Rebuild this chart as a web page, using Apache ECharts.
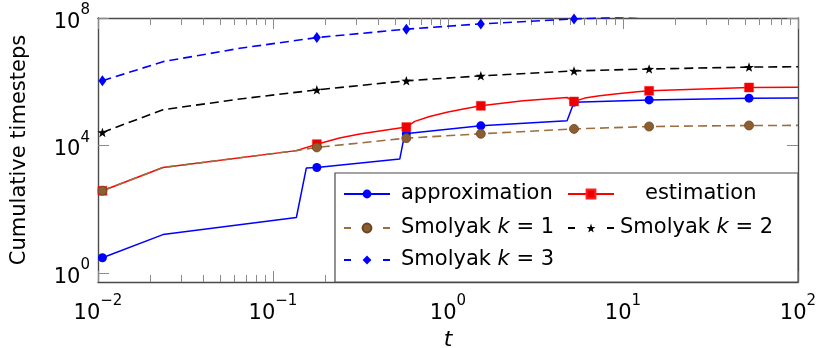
<!DOCTYPE html>
<html><head><meta charset="utf-8">
<script src="https://cdn.jsdelivr.net/npm/echarts@6/dist/echarts.min.js"></script>
<style>html,body{margin:0;padding:0;background:#fff}#c{width:818px;height:348px}</style>
</head><body><div id="c"></div>
<script>
// ---- data ----
const markerT = [0.0106, 0.178, 0.578, 1.54, 5.25, 14.1, 52.5];

const approxT = [0.0106, 0.0235, 0.136, 0.155, 0.178, 0.53, 0.566, 0.578, 1.54, 4.79, 5.25, 14.1, 52.5, 100];
const approxV = [3, 16, 55, 1950, 2040, 3750, 23300, 23400, 41400, 59400, 229000, 269000, 306000, 309000];

const estT = [0.0106, 0.0235, 0.136, 0.178, 0.24, 0.313, 0.434, 0.578, 0.646, 0.785, 1.0, 1.246, 1.54, 2.69, 4.79, 5.25, 6.04, 7.36, 9.58, 11.67, 14.1, 52.5, 100];
const estV = [380, 2040, 6900, 11000, 17100, 22900, 29900, 37800, 57100, 81300, 111700, 142200, 176000, 255000, 320000, 240000, 307000, 361000, 425000, 473000, 519000, 661000, 676000];

const k1T = [0.0106, 0.0235, 0.136, 0.178, 0.578, 1.54, 5.25, 14.1, 52.5, 100];
const k1V = [380, 2040, 6900, 8700, 17000, 23300, 33100, 39400, 42400, 42700];

const k2T = [0.0106, 0.0235, 0.0646, 0.178, 0.578, 1.54, 5.25, 14.1, 52.5, 100];
const k2V = [25700, 132000, 288000, 557000, 1070000, 1530000, 2190000, 2510000, 2880000, 2950000];

const k3T = [0.0106, 0.0235, 0.0646, 0.178, 0.578, 1.54, 5.25, 14.1, 52.5, 100];
const k3V = [1070000, 4270000, 11200000, 24300000, 44700000, 65300000, 93300000, 115000000, 150000000, 160000000];

const xTickValues = [0.01, 0.1, 1, 10, 100];
const xMinorTickValues = [0.02,0.03,0.04,0.05,0.06,0.07,0.08,0.09,0.2,0.3,0.4,0.5,0.6,0.7,0.8,0.9,2,3,4,5,6,7,8,9,20,30,40,50,60,70,80,90];
const yTickValues = [1, 1e4, 1e8];

const seriesNames = ['approximation', 'estimation', 'Smolyak k = 1', 'Smolyak k = 2', 'Smolyak k = 3'];

// ---- styling ----
const F = 'DejaVu Sans';
const BROWN_LINE = '#9c6d3e', BROWN_FILL = '#8c5e30', BROWN_EDGE = '#6b4522';
const STAR = 'path://M0,-10 L2.35,-3.24 L9.51,-3.09 L3.8,1.24 L5.88,8.09 L0,4 L-5.88,8.09 L-3.8,1.24 L-9.51,-3.09 L-2.35,-3.24 Z';

function build(ts, vs) {
  return ts.map((t, i) => markerT.includes(t) ? [t, vs[i]] : { value: [t, vs[i]], symbol: 'none' });
}
function powLabel(v) {
  const e = Math.round(Math.log10(v));
  return '{n|10}{e|' + String(e).replace('-', '\u2212') + '}';
}
const labelRich = {
  n: { fontFamily: F, fontSize: 21, lineHeight: 30, verticalAlign: 'bottom', color: '#000' },
  e: { fontFamily: F, fontSize: 15, lineHeight: 14, verticalAlign: 'top', color: '#000' }
};
const AXLINE = { show: true, lineStyle: { color: '#4a4a4a', width: 1.4 } };
const TICKC = '#8a8a8a';

function xAxisDef(pos, major, withLabel) {
  return {
    type: 'log', logBase: 10, min: 0.01, max: 100, position: pos,
    axisLine: major ? AXLINE : { show: false },
    axisTick: { show: true, inside: true, length: major ? 11 : 7, lineStyle: { color: TICKC, width: 1 },
      customValues: major ? xTickValues : xMinorTickValues },
    axisLabel: withLabel ? { show: true, customValues: xTickValues, formatter: powLabel, rich: labelRich, margin: 12 } : { show: false },
    splitLine: { show: false }, minorTick: { show: false },
    name: withLabel ? 't' : '', nameLocation: 'middle', nameGap: 44,
    nameTextStyle: { fontFamily: F, fontSize: 22, fontStyle: 'italic', color: '#000' }
  };
}
function yAxisDef(pos, withLabel) {
  return {
    type: 'log', logBase: 10, min: 0.5215, max: 1e8, position: pos,
    axisLine: AXLINE,
    axisTick: { show: true, inside: true, length: 11, lineStyle: { color: TICKC, width: 1 }, customValues: yTickValues },
    axisLabel: withLabel ? { show: true, customValues: yTickValues, formatter: powLabel, rich: labelRich, margin: 8 } : { show: false },
    splitLine: { show: false }, minorTick: { show: false },
    name: withLabel ? 'Cumulative timesteps' : '', nameLocation: 'middle', nameGap: 68,
    nameTextStyle: { fontFamily: F, fontSize: 21, color: '#000' }
  };
}

const legRich = {
  a: { fontFamily: F, fontSize: 21, color: '#000' },
  i: { fontFamily: F, fontSize: 21, fontStyle: 'italic', color: '#000' }
};
function legFmt(name) {
  const m = name.match(/^Smolyak k = (\d)$/);
  return m ? '{a|Smolyak }{i|k}{a| = ' + m[1] + '}' : '{a|' + name + '}';
}
function leg(name, left, rowY, padLeft, dashed) {
  const o = {
    data: [name], left: left, top: rowY - 12, padding: 0, itemWidth: 46, itemHeight: 11, itemGap: 0,
    selectedMode: false, formatter: legFmt, z: 10,
    textStyle: { fontFamily: F, fontSize: 21, lineHeight: 24, color: '#000', padding: [0, 0, 0, padLeft], rich: legRich }
  };
  if (dashed) o.lineStyle = { type: [7, 32] };
  return o;
}

const chart = echarts.init(document.getElementById('c'), null, { renderer: 'canvas' });
chart.setOption({
  animation: false,
  backgroundColor: '#fff',
  grid: { left: 98, right: 20, top: 18, bottom: 66, containLabel: false, outerBoundsMode: 'none' },
  xAxis: [xAxisDef('bottom', true, true), xAxisDef('bottom', false, false), xAxisDef('top', true, false), xAxisDef('top', false, false)],
  yAxis: [yAxisDef('left', true), yAxisDef('right', false)],
  legend: [
    leg(seriesNames[0], 343, 194, 6, false),
    leg(seriesNames[1], 567, 194, 26, false),
    leg(seriesNames[2], 343, 228, 6, true),
    leg(seriesNames[3], 567, 228, 1, true),
    leg(seriesNames[4], 343, 260, 6, true)
  ],
  graphic: [{ type: 'rect', z: 5, shape: { x: 335, y: 173, width: 463, height: 109 },
    style: { fill: '#fff', stroke: '#4a4a4a', lineWidth: 1.2 } }],
  series: [
    { name: seriesNames[0], type: 'line', data: build(approxT, approxV), symbol: 'circle', symbolSize: 9,
      lineStyle: { color: '#0000ff', width: 1.5 }, itemStyle: { color: '#0000ff' } },
    { name: seriesNames[1], type: 'line', data: build(estT, estV), symbol: 'rect', symbolSize: 9,
      lineStyle: { color: '#ff0000', width: 1.5 }, itemStyle: { color: '#ee0000', borderColor: '#ff2020', borderWidth: 0.5 } },
    { name: seriesNames[2], type: 'line', data: build(k1T, k1V), symbol: 'circle', symbolSize: 9,
      lineStyle: { color: BROWN_LINE, width: 1.6, type: [9, 5] }, itemStyle: { color: BROWN_FILL, borderColor: BROWN_EDGE, borderWidth: 0.8 } },
    { name: seriesNames[3], type: 'line', data: build(k2T, k2V), symbol: STAR, symbolSize: 10, symbolKeepAspect: true,
      lineStyle: { color: '#000', width: 1.6, type: [9, 5] }, itemStyle: { color: '#000' } },
    { name: seriesNames[4], type: 'line', data: build(k3T, k3V), symbol: 'diamond', symbolSize: [8, 11],
      lineStyle: { color: '#0000ff', width: 1.6, type: [9, 5] }, itemStyle: { color: '#0000ff' } }
  ]
});
</script></body></html>
